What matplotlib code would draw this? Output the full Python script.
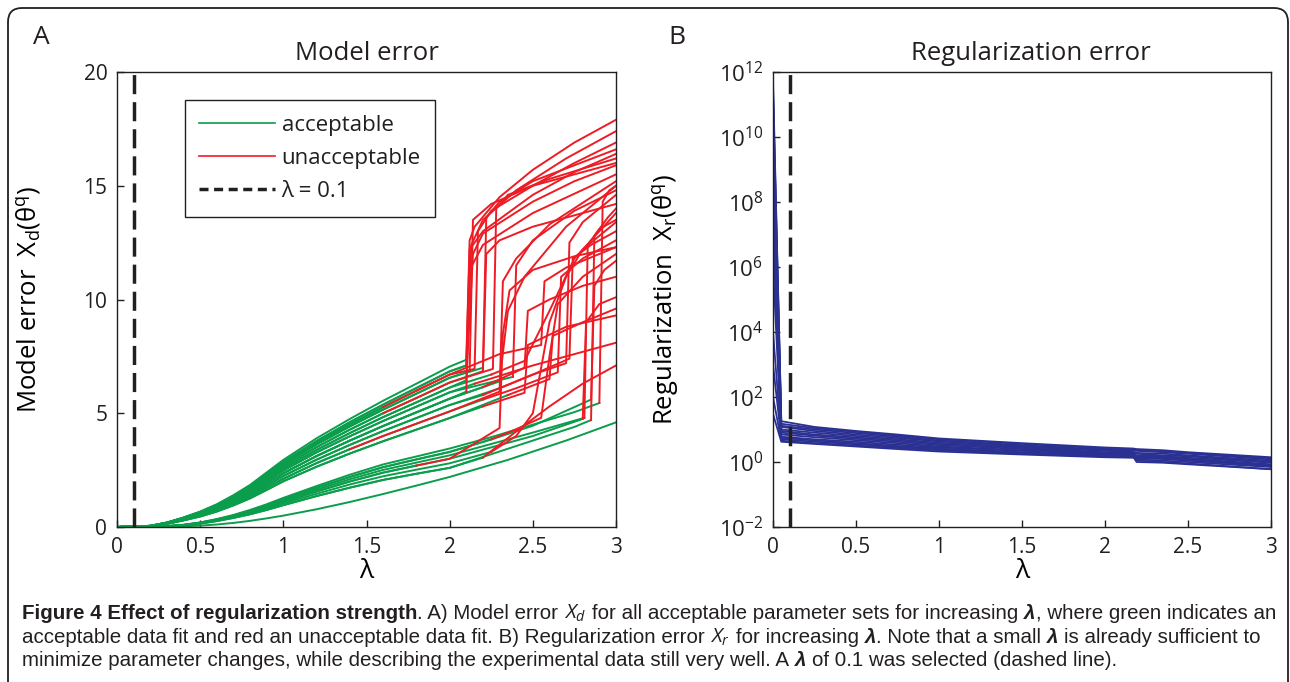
import matplotlib
matplotlib.use('Agg')
from matplotlib import pyplot as plt
from matplotlib import font_manager
from matplotlib.patches import FancyBboxPatch
from matplotlib.lines import Line2D
from matplotlib.ticker import NullLocator
from matplotlib.transforms import IdentityTransform

# ============ data ====================
LAM_SEL = 0.1

# model error: every parameter set shares the lambda grid up to 2.0 ...
early_lam = [0, 0.2, 0.3, 0.4, 0.5, 0.6, 0.7, 0.8, 0.9, 1.0, 1.2, 1.4, 1.6, 1.8, 2.0]
early_val = [
    [0, 0.05, 0.20, 0.42, 0.68, 1.00, 1.40, 1.85, 2.40, 2.95, 3.90, 4.75, 5.55, 6.30, 7.05],
    [0, 0.05, 0.19, 0.41, 0.66, 0.97, 1.36, 1.79, 2.33, 2.86, 3.78, 4.61, 5.38, 6.11, 6.84],
    [0, 0.05, 0.19, 0.40, 0.65, 0.95, 1.33, 1.76, 2.28, 2.80, 3.71, 4.51, 5.27, 5.99, 6.70],
    [0, 0.05, 0.19, 0.39, 0.63, 0.93, 1.30, 1.72, 2.23, 2.74, 3.63, 4.42, 5.16, 5.86, 6.56],
    [0, 0.05, 0.18, 0.38, 0.61, 0.90, 1.26, 1.67, 2.16, 2.66, 3.51, 4.28, 5.00, 5.67, 6.35],
    [0, 0.04, 0.17, 0.37, 0.59, 0.87, 1.22, 1.61, 2.09, 2.57, 3.39, 4.13, 4.83, 5.48, 6.13],
    [0, 0.04, 0.14, 0.30, 0.49, 0.72, 1.01, 1.33, 1.73, 2.12, 2.81, 3.42, 4.00, 4.54, 5.08],
    [0, 0.04, 0.16, 0.34, 0.54, 0.80, 1.12, 1.48, 1.92, 2.36, 3.12, 3.80, 4.44, 5.04, 5.64],
    [0, 0.04, 0.17, 0.35, 0.57, 0.84, 1.18, 1.55, 2.02, 2.48, 3.28, 3.99, 4.66, 5.29, 5.92],
    [0, 0.04, 0.16, 0.34, 0.54, 0.80, 1.12, 1.48, 1.92, 2.36, 3.12, 3.80, 4.44, 5.04, 5.64],
    [0, 0.05, 0.19, 0.40, 0.65, 0.95, 1.33, 1.76, 2.28, 2.80, 3.71, 4.51, 5.27, 5.99, 6.70],
    [0, 0.04, 0.14, 0.30, 0.49, 0.72, 1.01, 1.33, 1.73, 2.12, 2.81, 3.42, 4.00, 4.54, 5.08],
    [0, 0.04, 0.15, 0.32, 0.52, 0.76, 1.06, 1.41, 1.82, 2.24, 2.96, 3.61, 4.22, 4.79, 5.36],
    [0, 0.03, 0.14, 0.29, 0.46, 0.68, 0.95, 1.26, 1.63, 2.01, 2.65, 3.23, 3.77, 4.28, 4.79],
    [0, 0.01, 0.04, 0.10, 0.20, 0.35, 0.53, 0.75, 1.00, 1.28, 1.80, 2.30, 2.75, 3.10, 3.45],
    [0, 0.01, 0.03, 0.09, 0.18, 0.32, 0.48, 0.68, 0.91, 1.17, 1.64, 2.10, 2.51, 2.83, 3.15],
    [0, 0.01, 0.04, 0.09, 0.19, 0.33, 0.50, 0.71, 0.95, 1.22, 1.72, 2.20, 2.63, 2.97, 3.30],
    [0, 0.00, 0.01, 0.03, 0.06, 0.11, 0.18, 0.27, 0.38, 0.50, 0.78, 1.10, 1.45, 1.82, 2.20],
    [0, 0.01, 0.03, 0.08, 0.16, 0.28, 0.43, 0.61, 0.81, 1.04, 1.46, 1.87, 2.23, 2.52, 2.80],
    [0, 0.01, 0.03, 0.08, 0.17, 0.30, 0.46, 0.65, 0.87, 1.11, 1.56, 2.00, 2.39, 2.70, 3.00],
    [0, 0.01, 0.03, 0.07, 0.15, 0.26, 0.40, 0.56, 0.75, 0.96, 1.36, 1.73, 2.07, 2.34, 2.60],
    [0, 0.01, 0.03, 0.08, 0.17, 0.30, 0.46, 0.65, 0.87, 1.11, 1.56, 2.00, 2.39, 2.70, 3.00],
    [0, 0.05, 0.18, 0.38, 0.61, 0.90, 1.26, 1.67, 2.16, 2.66, 3.51, 4.28, 5.00, 5.67, 6.35],
    [0, 0.04, 0.17, 0.35, 0.57, 0.84, 1.18, 1.55, 2.02, 2.48, 3.28, 3.99, 4.66, 5.29, 5.92],
    [0, 0.05, 0.19, 0.41, 0.66, 0.97, 1.36, 1.79, 2.33, 2.86, 3.78, 4.61, 5.38, 6.11, 6.84],
    [0, 0.04, 0.16, 0.34, 0.54, 0.80, 1.12, 1.48, 1.92, 2.36, 3.12, 3.80, 4.44, 5.04, 5.64],
    [0, 0.01, 0.03, 0.07, 0.15, 0.26, 0.40, 0.56, 0.75, 0.96, 1.36, 1.73, 2.07, 2.34, 2.60],
    [0, 0.05, 0.19, 0.39, 0.63, 0.93, 1.30, 1.72, 2.23, 2.74, 3.63, 4.42, 5.16, 5.86, 6.56],
    [0, 0.03, 0.14, 0.29, 0.46, 0.68, 0.95, 1.26, 1.63, 2.01, 2.65, 3.23, 3.77, 4.28, 4.79],
    [0, 0.04, 0.17, 0.37, 0.59, 0.87, 1.22, 1.61, 2.09, 2.57, 3.39, 4.13, 4.83, 5.48, 6.13],
    [0, 0.01, 0.04, 0.09, 0.19, 0.33, 0.50, 0.71, 0.95, 1.22, 1.72, 2.20, 2.63, 2.97, 3.30],
    [0, 0.04, 0.15, 0.32, 0.52, 0.76, 1.06, 1.41, 1.82, 2.24, 2.96, 3.61, 4.22, 4.79, 5.36],
]
# ... and continues on its own points beyond 2.0
tail_lam = [
    [2.1, 2.12, 2.15, 2.3, 2.5, 2.75, 3.0],
    [2.1, 2.13, 2.2, 2.4, 2.7, 3.0],
    [2.15, 2.17, 2.25, 2.5, 2.75, 3.0],
    [2.2, 2.22, 2.3, 2.5, 2.75, 3.0],
    [2.26, 2.28, 2.35, 2.6, 3.0],
    [2.1, 2.14, 2.2, 2.5, 2.75, 3.0],
    [2.3, 2.32, 2.4, 2.6, 3.0],
    [2.3, 2.35, 2.45, 2.7, 3.0],
    [2.15, 2.5, 2.75, 3.0],
    [2.2, 2.45, 2.47, 2.6, 2.8, 3.0],
    [2.3, 2.55, 2.57, 2.7, 3.0],
    [2.2, 2.4, 2.65, 2.67, 2.8, 3.0],
    [2.3, 2.5, 2.72, 2.74, 2.85, 3.0],
    [2.35, 2.6, 2.62, 2.8, 3.0],
    [2.25, 2.5, 2.75, 2.9, 2.92, 2.96, 3.0],
    [2.25, 2.5, 2.81, 2.83, 2.9, 3.0],
    [2.25, 2.5, 2.85, 2.87, 2.93, 3.0],
    [2.35, 2.7, 3.0],
    [2.25, 2.4, 2.5, 2.55, 2.6, 2.7, 2.8, 3.0],
    [2.3, 2.32, 2.36, 2.5, 2.75, 3.0],
    [2.2, 2.4, 2.6, 2.8, 3.0],
    [2.25, 2.5, 2.8, 2.82, 2.9, 3.0],
    [2.2, 2.22, 2.3, 2.5, 2.75, 3.0],
    [2.38, 2.4, 2.5, 2.75, 3.0],
    [2.1, 2.12, 2.2, 2.5, 2.75, 3.0],
    [2.1, 2.12, 2.2, 2.5, 3.0],
    [2.25, 2.5, 2.75, 2.85, 2.87, 2.95, 3.0],
    [2.12, 2.14, 2.25, 2.5, 3.0],
    [2.2, 2.45, 2.47, 2.7, 3.0],
    [2.25, 2.45, 2.6, 2.75, 3.0],
    [2.25, 2.4, 2.55, 2.6, 2.65, 2.8, 3.0],
    [2.2, 2.5, 2.7, 2.72, 2.8, 3.0],
]
tail_val = [
    [7.35, 12.6, 13.2, 14.5, 15.7, 16.9, 17.9],
    [7.10, 12.4, 13.5, 14.8, 16.2, 17.4],
    [6.95, 13.0, 13.9, 15.0, 16.0, 16.9],
    [7.00, 13.6, 14.3, 15.2, 15.9, 16.6],
    [6.95, 14.0, 14.6, 15.3, 16.2],
    [6.45, 12.0, 12.9, 14.3, 15.2, 15.9],
    [5.95, 10.8, 11.8, 13.3, 15.2],
    [6.40, 9.5, 11.0, 13.2, 15.0],
    [6.30, 7.10, 7.60, 8.10],
    [6.15, 7.00, 9.50, 10.0, 10.6, 11.0],
    [7.60, 8.00, 10.8, 11.4, 12.3],
    [5.60, 6.10, 6.80, 11.0, 11.8, 12.6],
    [6.10, 6.70, 7.40, 11.8, 12.4, 13.0],
    [5.80, 6.50, 8.40, 9.00, 9.60],
    [3.95, 4.50, 5.05, 5.45, 14.3, 14.8, 15.0],
    [3.65, 4.15, 4.80, 12.4, 13.1, 13.5],
    [3.85, 4.45, 5.60, 10.6, 11.3, 11.7],
    [2.95, 3.80, 4.60],
    [3.30, 4.00, 5.00, 7.00, 9.00, 11.0, 12.2, 13.4],
    [4.35, 8.50, 10.4, 11.3, 11.9, 12.3],
    [3.05, 4.20, 5.30, 6.30, 7.10],
    [3.50, 4.00, 4.75, 9.00, 9.80, 10.1],
    [6.85, 12.0, 12.6, 13.2, 13.7, 14.2],
    [6.60, 11.5, 12.6, 13.9, 14.8],
    [7.10, 12.2, 13.0, 14.6, 15.6, 16.4],
    [5.95, 11.3, 12.4, 13.8, 15.5],
    [3.20, 3.80, 4.40, 4.70, 12.8, 13.6, 14.0],
    [6.85, 13.5, 14.2, 15.0, 16.0],
    [5.30, 5.90, 8.00, 8.80, 9.30],
    [6.70, 7.30, 9.50, 11.8, 13.8],
    [3.85, 4.30, 4.80, 7.50, 9.80, 11.0, 12.0],
    [5.80, 6.70, 7.20, 12.5, 13.4, 14.6],
]
# index (in the joined point list) where the fit becomes unacceptable, None = stays acceptable
red_from = [15, 15, 12, 15, 12, 15, 11, 15, 15, 15, 13, 15, 15, 15, 18, 17, 17, None,
            15, 13, 15, 17, 15, 15, 15, 15, 18, 15, 15, 15, 15, 15]

# regularization error
reg_lam = [0, 0.05, 0.25, 0.5, 0.75, 1.0, 1.5, 2.0, 2.17, 2.19, 2.35, 2.5, 3.0]
reg_val = [
    [6e11, 15, 11, 8.5, 6.5, 5.0, 3.6, 2.6, 2.4, 2.3, 2.1, 1.9, 1.3],
    [3e11, 18, 12, 9.0, 7.0, 5.3, 3.8, 2.8, 2.6, 2.5, 2.3, 2.0, 1.4],
    [2e11, 13, 10, 7.8, 6.0, 4.6, 3.3, 2.4, 2.2, 2.2, 2.0, 1.8, 1.2],
    [5e10, 12, 9, 7.0, 5.5, 4.3, 3.1, 2.3, 2.1, 1.3, 1.25, 1.15, 0.8],
    [1e10, 10, 8, 6.3, 5.0, 3.9, 2.9, 2.2, 2.0, 1.9, 1.8, 1.6, 1.1],
    [1e9, 9, 7, 5.7, 4.6, 3.6, 2.7, 2.0, 1.9, 1.2, 1.1, 1.0, 0.7],
    [1e8, 8, 6.5, 5.2, 4.2, 3.3, 2.5, 1.9, 1.8, 1.8, 1.6, 1.5, 1.0],
    [1e7, 7, 5.8, 4.7, 3.8, 3.0, 2.3, 1.8, 1.7, 1.1, 1.0, 0.9, 0.6],
    [1e6, 6, 5.0, 4.2, 3.4, 2.8, 2.2, 1.7, 1.6, 1.6, 1.5, 1.35, 0.95],
    [1e4, 5.5, 4.6, 3.8, 3.1, 2.6, 2.0, 1.6, 1.5, 1.5, 1.4, 1.25, 0.85],
    [1e3, 5, 4.2, 3.5, 2.9, 2.4, 1.9, 1.5, 1.45, 1.0, 0.95, 0.85, 0.6],
    [100, 4.5, 3.8, 3.2, 2.7, 2.3, 1.8, 1.5, 1.45, 1.45, 1.3, 1.2, 0.8],
    [30, 4.2, 3.6, 3.0, 2.5, 2.1, 1.7, 1.4, 1.35, 1.35, 1.25, 1.1, 0.75],
]

x_ticks = [0, 0.5, 1, 1.5, 2, 2.5, 3]
x_labels = ['0', '0.5', '1', '1.5', '2', '2.5', '3']
err_ticks = [0, 5, 10, 15, 20]
reg_ticks = [1e-2, 1e0, 1e2, 1e4, 1e6, 1e8, 1e10, 1e12]
# ======================================

GREEN = '#0a9d4b'
RED = '#ed1c24'
BLUE = '#2b3192'
INK = '#231f20'
DASH = (5.5, 2.3)

names = {f.name for f in font_manager.fontManager.ttflist}
FONT = 'Open Sans' if 'Open Sans' in names else 'DejaVu Sans'
CAP_FONT = 'Liberation Sans Narrow' if 'Liberation Sans Narrow' in names else 'Liberation Sans'

plt.rcParams['font.family'] = [FONT, 'DejaVu Sans']
plt.rcParams['mathtext.fontset'] = 'custom'
plt.rcParams['mathtext.rm'] = FONT
plt.rcParams['mathtext.it'] = FONT + ':italic'
plt.rcParams['mathtext.bf'] = FONT + ':bold'
plt.rcParams['text.color'] = INK

W, H = 1290, 682
fig = plt.figure(figsize=(W / 100, H / 100), dpi=100)

ax1 = fig.add_axes([117 / W, 155 / H, 499 / W, 455 / H])
ax2 = fig.add_axes([773 / W, 155 / H, 498 / W, 455 / H])


def style_axes(ax):
    for s in ax.spines.values():
        s.set_linewidth(1.0)
        s.set_color(INK)
    ax.tick_params(direction='in', length=5, width=1.0, labelsize=15, pad=7,
                   colors=INK, top=False, right=False)
    ax.set_xticks(x_ticks, x_labels)
    ax.set_xlim(0, 3)
    ax.set_xlabel('λ', fontsize=19, labelpad=1)


# --- A: model error ---
curves = []
for ev, tl, tv in zip(early_val, tail_lam, tail_val):
    curves.append((early_lam[:len(ev)] + tl, ev + tv))

for (xs, ys), k in zip(curves, red_from):
    end = len(xs) if k is None else k + 1
    ax1.plot(xs[:end], ys[:end], color=GREEN, lw=1.4, solid_joinstyle='round')
for (xs, ys), k in zip(curves, red_from):
    if k is not None:
        ax1.plot(xs[k:], ys[k:], color=RED, lw=1.4, solid_joinstyle='round')
ax1.axvline(LAM_SEL, color=INK, lw=2.5, dashes=DASH)
style_axes(ax1)
ax1.set_ylim(0, 20)
ax1.set_yticks(err_ticks)
ax1.set_title('Model error', fontsize=18.5, pad=9)
ax1.set_ylabel(r'Model error  $\mathrm{X_d(\theta^q)}$', fontsize=18.5)
ax1.yaxis.set_label_coords(-0.150, 0.5)

handles = [Line2D([], [], color=GREEN, lw=1.2),
           Line2D([], [], color=RED, lw=1.2),
           Line2D([], [], color=INK, lw=2.5, dashes=(2.6, 1.6))]
leg = ax1.legend(handles, ['acceptable', 'unacceptable', 'λ = 0.1'],
                 loc='upper left', bbox_to_anchor=(0.136, 0.938), borderaxespad=0,
                 fontsize=16, handlelength=3.4, handletextpad=0.3, borderpad=0.65,
                 labelspacing=0.55, fancybox=False, framealpha=1, edgecolor=INK)
leg.get_frame().set_linewidth(1.0)

# --- B: regularization error ---
for ys in reg_val:
    ax2.plot(reg_lam, ys, color=BLUE, lw=1.3)
ax2.axvline(LAM_SEL, color=INK, lw=2.5, dashes=DASH)
ax2.set_yscale('log')
style_axes(ax2)
ax2.set_ylim(1e-2, 1e12)
ax2.set_yticks(reg_ticks)
ax2.yaxis.set_minor_locator(NullLocator())
ax2.tick_params(axis='y', labelsize=16)
ax2.set_title('Regularization error', fontsize=18.5, pad=9, x=0.518)
ax2.set_ylabel(r'Regularization  $\mathrm{X_r(\theta^q)}$', fontsize=18.5)
ax2.yaxis.set_label_coords(-0.187, 0.5)

fig.text(41 / W, 1 - 37 / H, 'A', fontsize=19, ha='center', va='center')
fig.text(677 / W, 1 - 37 / H, 'B', fontsize=19, ha='center', va='center')

# frame round the figure
box = FancyBboxPatch((8, -40), 1280, 714, boxstyle='round,pad=0,rounding_size=14',
                     transform=IdentityTransform(), facecolor='none', edgecolor=INK, lw=1.3)
fig.add_artist(box)

# --- caption ---
B, N, I = 'bold', 'normal', 'italic'
caption = [
    [('Figure 4 Effect of regularization strength', B, N, False),
     ('. A) Model error', N, N, False),
     ('$X_d$', N, N, True),
     ('for all acceptable parameter sets for increasing', N, N, True),
     ('λ', B, I, True),
     (', where green indicates an', N, N, False)],
    [('acceptable data fit and red an unacceptable data fit. B) Regularization error', N, N, False),
     ('$X_r$', N, N, True),
     ('for increasing', N, N, True),
     ('λ', B, I, True),
     ('. Note that a small', N, N, False),
     ('λ', B, I, True),
     ('is already sufficient to', N, N, True)],
    [('minimize parameter changes, while describing the experimental data still very well. A', N, N, False),
     ('λ', B, I, True),
     ('of 0.1 was selected (dashed line).', N, N, True)],
]

renderer = fig.canvas.get_renderer()


def put_line(x0, y0, segs, size, keep=True):
    probe = fig.text(0, 0, 'n n', fontsize=size, family=CAP_FONT, transform=IdentityTransform())
    w2 = probe.get_window_extent(renderer).width
    probe.set_text('nn')
    w1 = probe.get_window_extent(renderer).width
    probe.remove()
    sp = w2 - w1
    x = x0
    arts = []
    for txt, wt, st, gap in segs:
        if gap:
            x += sp
        t = fig.text(x, y0, txt, transform=IdentityTransform(), fontsize=size,
                     family=[CAP_FONT, 'DejaVu Sans'], fontweight=wt, fontstyle=st,
                     ha='left', va='baseline', color=INK)
        x = t.get_window_extent(renderer).x1
        arts.append(t)
    if not keep:
        for t in arts:
            t.remove()
    return x - x0


w_test = put_line(22, 63, caption[0], 12, keep=False)
cap_size = 12 * 1253 / w_test
for segs, yb in zip(caption, [63, 39, 16]):
    put_line(22, yb, segs, cap_size)

fig.savefig('out.png', dpi=100, facecolor='white')
